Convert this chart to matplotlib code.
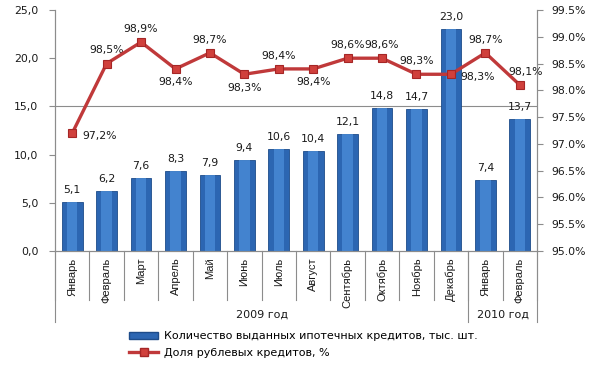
import matplotlib
matplotlib.use("Agg")
import matplotlib.pyplot as plt
from matplotlib.lines import Line2D
from matplotlib.patches import Patch
from matplotlib import font_manager

# данные
months = ["Январь", "Февраль", "Март", "Апрель", "Май", "Июнь", "Июль",
          "Август", "Сентябрь", "Октябрь", "Ноябрь", "Декабрь",
          "Январь", "Февраль"]
credits = [5.1, 6.2, 7.6, 8.3, 7.9, 9.4, 10.6, 10.4, 12.1, 14.8, 14.7, 23.0, 7.4, 13.7]
rub_share = [97.2, 98.5, 98.9, 98.4, 98.7, 98.3, 98.4, 98.4, 98.6, 98.6, 98.3, 98.3, 98.7, 98.1]
groups = ["2009 год", "2010 год"]
group_sizes = [12, 2]
left_ticks = [0, 5, 10, 15, 20, 25]
right_ticks = [95.0, 95.5, 96.0, 96.5, 97.0, 97.5, 98.0, 98.5, 99.0, 99.5]

# положение подписей к точкам линии (смещение в пунктах)
lab_off = {"up": (0, 6, "center", "bottom"),
           "down": (0, -6, "center", "top"),
           "right": (7, -2, "left", "center"),
           "upright": (4, 6, "center", "bottom")}
lab_pos = ["right", "up", "up", "down", "up", "down", "up", "down",
           "up", "up", "up", "right", "up", "upright"]

names = {f.name for f in font_manager.fontManager.ttflist}
narrow = "Liberation Sans Narrow" if "Liberation Sans Narrow" in names else "Liberation Sans"

plt.rcParams["font.family"] = ["DejaVu Sans"]
TXT = "#1a1a1a"
FS = 7.8
GREY = "#8c8c8c"

fig = plt.figure(figsize=(6.02, 3.66), dpi=100)
ax = fig.add_axes([55 / 602, 1 - 251 / 366, 482 / 602, 241 / 366])
ax2 = ax.twinx()

x = list(range(len(months)))
ax.bar(x, credits, width=0.6, color="#2C66B2", edgecolor="#1D4C8A", linewidth=0.6, zorder=2)
ax.bar(x, credits, width=0.3, color="#4C8EDA", linewidth=0, alpha=0.75, zorder=3)
for xi, v in zip(x, credits):
    ax.annotate(f"{v:.1f}".replace(".", ","), (xi, v), xytext=(0, 5), textcoords="offset points",
                ha="center", va="bottom", fontsize=FS, color=TXT)

ax.set_xlim(-0.5, len(months) - 0.5)
ax.set_ylim(0, 25)
ax.set_yticks(left_ticks)
ax.set_yticklabels([f"{t:.1f}".replace(".", ",") for t in left_ticks], fontsize=FS, color=TXT)
ax.axhline(15, color=GREY, linewidth=0.8, zorder=1)
ax.set_xticks([])

ax2.plot(x, rub_share, color="#C0393A", linewidth=2.4, marker="s", markersize=6,
         markerfacecolor="#D0403C", markeredgecolor="#A52626", markeredgewidth=0.8, zorder=5)
for xi, v, p in zip(x, rub_share, lab_pos):
    dx, dy, ha, va = lab_off[p]
    ax2.annotate(f"{v:.1f}".replace(".", ",") + "%", (xi, v), xytext=(dx, dy),
                 textcoords="offset points", ha=ha, va=va, fontsize=FS, color=TXT)
ax2.set_ylim(95, 99.5)
ax2.set_yticks(right_ticks)
ax2.set_yticklabels([f"{t:.1f}%" for t in right_ticks], fontsize=FS, color=TXT)

for a in (ax, ax2):
    a.spines["top"].set_visible(False)
    for s in ("bottom", "left", "right"):
        a.spines[s].set_color(GREY)
ax.tick_params(axis="y", length=4, width=0.8, color=GREY, pad=8)
ax2.tick_params(axis="y", length=4, width=0.8, color=GREY, pad=6)
ax.set_zorder(ax2.get_zorder() - 1)
ax2.patch.set_visible(False)
ax.patch.set_visible(False)

# подписи месяцев и разделители групп
tr = ax.get_xaxis_transform()
for xi, m in zip(x, months):
    ax.text(xi, -0.028, m, transform=tr, rotation=90, ha="center", va="top",
            fontsize=8, family=narrow, color=TXT)
for b in range(len(months) + 1):
    xb = b - 0.5
    ax.plot([xb, xb], [0, -0.203], transform=tr, color=GREY, linewidth=0.8, clip_on=False)
start = 0
bounds = [-0.5]
for g, n in zip(groups, group_sizes):
    ax.text(start + (n - 1) / 2, -0.265, g, transform=tr, ha="center", va="center",
            fontsize=8, color=TXT)
    start += n
    bounds.append(start - 0.5)
for xb in bounds:
    ax.plot([xb, xb], [0, -0.295], transform=tr, color=GREY, linewidth=0.8, clip_on=False)

handles = [Patch(facecolor="#2C66B2", edgecolor="#1D4C8A"),
           Line2D([], [], color="#C0393A", linewidth=2.4, marker="s", markersize=6,
                  markerfacecolor="#D0403C", markeredgecolor="#A52626")]
labels = ["Количество выданных ипотечных кредитов, тыс. шт.", "Доля рублевых кредитов, %"]
fig.legend(handles, labels, loc="upper left", bbox_to_anchor=(125 / 602, 1 - 327 / 366),
           frameon=False, fontsize=8, handlelength=2.6, handleheight=0.6,
           labelspacing=0.55, borderaxespad=0, handletextpad=0.5)

fig.savefig("out.png", dpi=100)
